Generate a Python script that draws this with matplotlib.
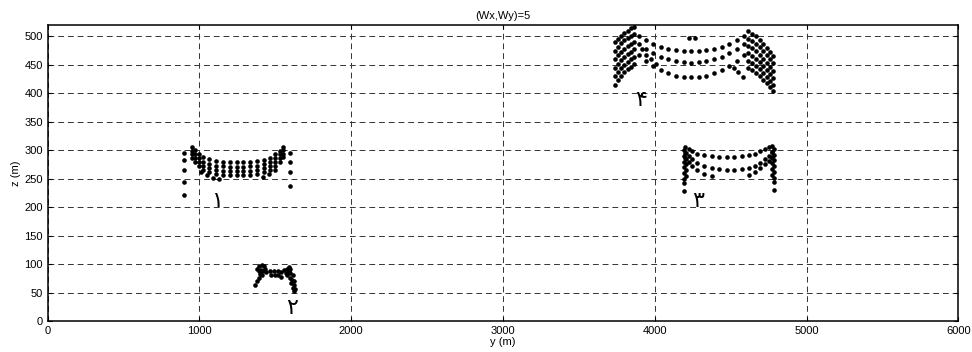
import matplotlib
matplotlib.use('Agg')
import matplotlib.pyplot as plt

# ── data ─────────────────────────────────────────────────────────────────────
# cluster 1: arcs on a shared y grid
c1_y = [950, 972, 995, 1025, 1065, 1110, 1155, 1200, 1245, 1290, 1335, 1380, 1425, 1465, 1500, 1530, 1552]
c1_rows = [
    [305, 300, 294, 288, 284, 281, 280, 279, 279, 279, 280, 281, 283, 287, 293, 299, 306],
    [299, 293, 286, 280, 276, 273, 272, 271, 271, 271, 272, 273, 276, 280, 286, 293, 300],
    [293, 286, 279, 273, 268, 265, 264, 263, 263, 263, 264, 265, 268, 273, 279, 286, 294],
    [287, 279, 272, 266, 261, 258, 257, 256, 256, 256, 257, 258, 261, 266, 272, 279, 288],
]
c1_extra_y = [1010, 1050, 1090, 1130, 1420, 1460, 1500, 897, 897, 897, 897, 897, 1598, 1598, 1598, 1598]
c1_extra_z = [262, 256, 252, 250, 253, 258, 266, 296, 282, 266, 245, 222, 296, 279, 262, 238]

# cluster 2
c2_y = [1380, 1395, 1410, 1425, 1390, 1405, 1420, 1400, 1415, 1395, 1380, 1365, 1430, 1440,
        1465, 1470, 1490, 1495, 1515, 1520, 1540, 1540,
        1560, 1575, 1590, 1600, 1580, 1595, 1610, 1605, 1620, 1615, 1630, 1625, 1590, 1570, 1600, 1615, 1625]
c2_z = [92, 97, 98, 96, 88, 90, 88, 82, 80, 75, 70, 63, 92, 86,
        88, 80, 88, 80, 88, 80, 86, 78,
        90, 92, 88, 84, 80, 76, 72, 66, 64, 58, 56, 52, 95, 85, 92, 80, 70]

# cluster 3
c3_y = [4200, 4222, 4245, 4280, 4325, 4375, 4425, 4475, 4525, 4575, 4620, 4660, 4695, 4725, 4750, 4772]
c3_rows = [
    [306, 302, 298, 294, 291, 289, 288, 288, 288, 289, 291, 294, 298, 302, 306, 308],
    [296, 290, 284, 278, 273, 269, 267, 266, 266, 267, 269, 273, 278, 284, 290, 297],
]
c3_extra_y = [4200, 4222, 4245, 4280, 4325, 4375, 4620, 4660, 4695, 4725, 4750, 4772,
              4190, 4190, 4190, 4190, 4190, 4190, 4190, 4190, 4205, 4205, 4205, 4205, 4205,
              4785, 4785, 4785, 4785, 4785, 4785, 4785, 4785, 4770, 4770, 4770, 4770, 4770]
c3_extra_z = [286, 279, 272, 265, 259, 254, 256, 262, 268, 275, 281, 288,
              300, 290, 280, 270, 260, 250, 243, 228, 295, 285, 275, 265, 255,
              302, 292, 282, 272, 262, 252, 244, 231, 297, 287, 277, 267, 257]

# cluster 4: left span, middle span, right span
c4_left_y = [3735, 3755, 3778, 3800, 3822, 3845, 3865]
c4_left_rows = [
    [490, 496, 501, 506, 510, 514, 517],
    [475, 482, 488, 493, 497, 501, 504],
    [460, 467, 473, 478, 483, 487, 491],
    [445, 452, 458, 464, 469, 473, 477],
    [430, 437, 444, 450, 455, 460, 464],
    [415, 423, 430, 437, 442, 447, 451],
]
c4_mid_y = [3895, 3940, 3990, 4040, 4090, 4140, 4190, 4240, 4290, 4340, 4390, 4440, 4490, 4540, 4585]
c4_mid_rows = [
    [500, 493, 487, 482, 478, 476, 475, 474, 475, 476, 478, 482, 487, 493, 500],
    [487, 478, 470, 464, 460, 457, 455, 454, 455, 457, 460, 464, 470, 478, 487],
    [468, 457, 448, 441, 435, 431, 429, 428, 429, 431, 435, 441, 448, 457, 468],
]
c4_right_y = [4615, 4640, 4665, 4690, 4715, 4740, 4762, 4778]
c4_right_rows = [
    [509, 505, 500, 494, 487, 480, 473, 466],
    [496, 492, 487, 481, 474, 467, 460, 453],
    [483, 479, 474, 468, 461, 454, 447, 440],
    [470, 466, 461, 455, 448, 441, 434, 427],
    [457, 453, 448, 442, 435, 428, 421, 414],
    [445, 441, 436, 430, 424, 418, 411, 404],
]
c4_extra_y = [4225, 4265, 3915, 3945, 3975, 4010, 4520, 4550, 4580]
c4_extra_z = [498, 498, 478, 468, 460, 452, 445, 437, 428]

labels = ['١', '٢', '٣', '۴']
label_y = [1121, 1612, 4285, 3912]
label_z = [210, 22, 210, 389]

plt.rcParams['font.family'] = ['Liberation Sans', 'DejaVu Sans']

fig = plt.figure(figsize=(9.72, 3.52), dpi=100)
ax = fig.add_axes([0.049, 0.088, 0.937, 0.841])

dot = dict(ls='none', marker='o', ms=3.3, color='black', mec='black', mew=0)

for row in c1_rows:
    ax.plot(c1_y, row, **dot)
ax.plot(c1_extra_y, c1_extra_z, **dot)
ax.plot(c2_y, c2_z, **dot)
for row in c3_rows:
    ax.plot(c3_y, row, **dot)
ax.plot(c3_extra_y, c3_extra_z, **dot)
for row in c4_left_rows:
    ax.plot(c4_left_y, row, **dot)
for row in c4_mid_rows:
    ax.plot(c4_mid_y, row, **dot)
for row in c4_right_rows:
    ax.plot(c4_right_y, row, **dot)
ax.plot(c4_extra_y, c4_extra_z, **dot)

for t, xv, zv in zip(labels, label_y, label_z):
    ax.text(xv, zv, t, fontsize=16, ha='center', va='center', family=['DejaVu Sans'])

ax.set_xlim(0, 6000)
ax.set_ylim(0, 520)
ax.set_xticks(range(0, 6001, 1000))
ax.set_yticks(range(0, 501, 50))
ax.grid(True, color='#333333', ls=(0, (6, 4)), lw=0.7)
ax.tick_params(direction='in', labelsize=8, length=3, width=0.8, top=True, right=True)
for s in ax.spines.values():
    s.set_linewidth(1.1)

ax.set_xlabel('y (m)', fontsize=8, labelpad=1)
ax.set_ylabel('z (m)', fontsize=8, labelpad=2)
ax.set_title('(Wx,Wy)=5', fontsize=8, pad=4)

fig.savefig('out.png', dpi=100)
